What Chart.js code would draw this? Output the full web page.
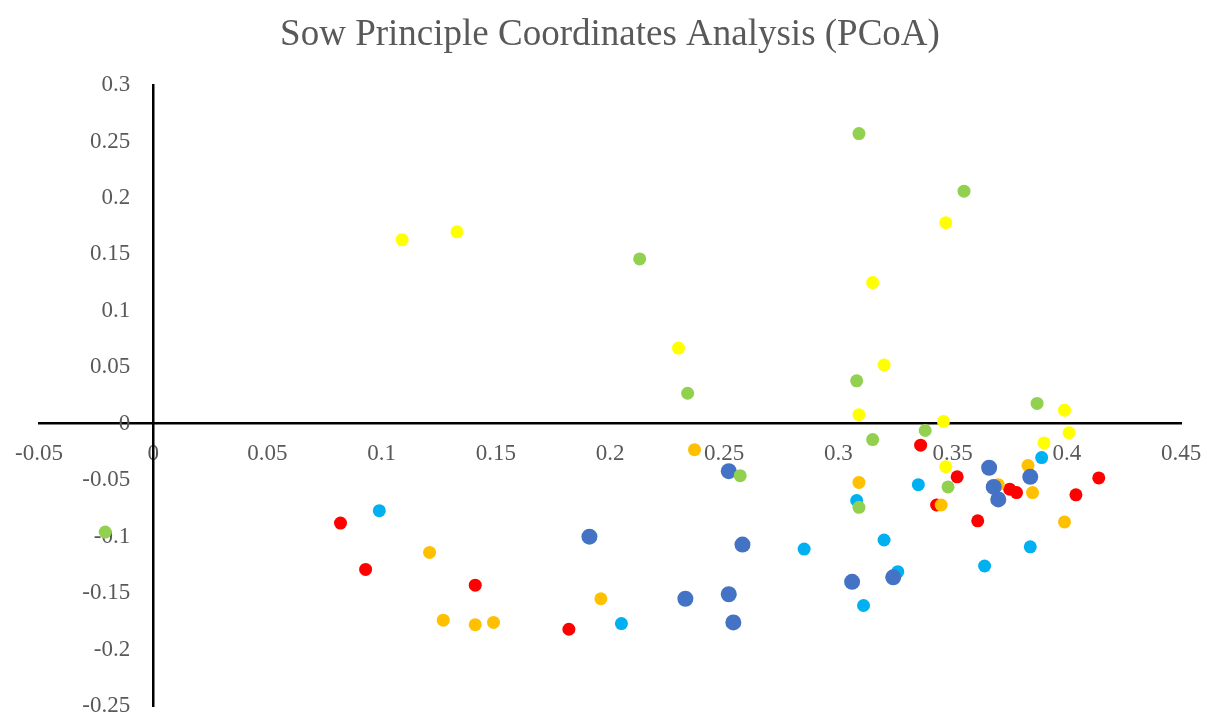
<!DOCTYPE html>
<html>
<head>
<meta charset="utf-8">
<title>Sow PCoA</title>
<script src="https://cdn.jsdelivr.net/npm/chart.js@4.4.0/dist/chart.umd.min.js"></script>
<style>
    html, body { margin: 0; padding: 0; background: #fff; }
    .chart-box { position: relative; width: 1207px; height: 719px; }
</style>
</head>
<body>
<div class="chart-box"><canvas id="pcoaChart"></canvas></div>
<script>
// --- Data ---
const chartTitle = 'Sow Principle Coordinates Analysis (PCoA)';
const xTicks = [-0.05, 0, 0.05, 0.1, 0.15, 0.2, 0.25, 0.3, 0.35, 0.4, 0.45];
const yTicks = [-0.25, -0.2, -0.15, -0.1, -0.05, 0, 0.05, 0.1, 0.15, 0.2, 0.25, 0.3];

const redX = [0.082, 0.093, 0.141, 0.182, 0.336, 0.352, 0.343, 0.361, 0.375, 0.378, 0.404, 0.414];
const redY = [-0.088, -0.129, -0.143, -0.182, -0.019, -0.047, -0.072, -0.086, -0.058, -0.061, -0.063, -0.048];

const orangeX = [0.121, 0.127, 0.141, 0.149, 0.196, 0.237, 0.309, 0.345, 0.370, 0.383, 0.385, 0.399];
const orangeY = [-0.114, -0.174, -0.178, -0.176, -0.155, -0.023, -0.052, -0.072, -0.054, -0.037, -0.061, -0.087];

const yellowX = [0.109, 0.133, 0.230, 0.315, 0.320, 0.309, 0.347, 0.346, 0.347, 0.390, 0.399, 0.401];
const yellowY = [0.163, 0.170, 0.067, 0.125, 0.052, 0.008, 0.178, 0.002, -0.038, -0.017, 0.012, -0.008];

const greenX = [-0.021, 0.213, 0.234, 0.257, 0.309, 0.308, 0.309, 0.315, 0.338, 0.348, 0.355, 0.387];
const greenY = [-0.096, 0.146, 0.027, -0.046, 0.257, 0.038, -0.074, -0.014, -0.006, -0.056, 0.206, 0.018];

const skyX = [0.099, 0.205, 0.285, 0.308, 0.311, 0.320, 0.326, 0.335, 0.364, 0.384, 0.389];
const skyY = [-0.077, -0.177, -0.111, -0.068, -0.161, -0.103, -0.131, -0.054, -0.126, -0.109, -0.030];

const blueX = [0.191, 0.233, 0.252, 0.252, 0.254, 0.258, 0.306, 0.324, 0.366, 0.368, 0.370, 0.384];
const blueY = [-0.100, -0.155, -0.042, -0.151, -0.176, -0.107, -0.140, -0.136, -0.039, -0.056, -0.067, -0.047];

const toPoints = (xs, ys) => xs.map((x, i) => ({ x: x, y: ys[i] }));

// first dataset is drawn on top
const series = [
    { data: toPoints(yellowX, yellowY), color: '#FFFF00', r: 6.5 },
    { data: toPoints(greenX, greenY), color: '#92D050', r: 6.5 },
    { data: toPoints(blueX, blueY), color: '#4472C4', r: 8 },
    { data: toPoints(skyX, skyY), color: '#00B0F0', r: 6.5 },
    { data: toPoints(orangeX, orangeY), color: '#FFC000', r: 6.5 },
    { data: toPoints(redX, redY), color: '#FF0000', r: 6.5 }
];

const tickFont = { family: 'Liberation Serif', size: 23 };
const textColor = '#595959';

const ctx = document.getElementById('pcoaChart').getContext('2d');
new Chart(ctx, {
    type: 'scatter',
    data: {
        datasets: series.map(s => ({
            data: s.data,
            backgroundColor: s.color,
            borderWidth: 0,
            pointRadius: s.r,
            pointHoverRadius: s.r
        }))
    },
    options: {
        responsive: true,
        maintainAspectRatio: false,
        animation: false,
        layout: {
            padding: { left: 39, right: 26, top: 0, bottom: 13 }
        },
        scales: {
            x: {
                type: 'linear',
                min: -0.05,
                max: 0.45,
                position: { y: 0 },
                grid: { display: false, drawTicks: false },
                border: { display: true, color: '#000', width: 2.5 },
                ticks: {
                    color: textColor,
                    font: tickFont,
                    padding: 16,
                    maxRotation: 0,
                    autoSkip: false,
                    callback: v => String(v)
                },
                afterBuildTicks: scale => {
                    scale.ticks = xTicks.map(v => ({ value: v }));
                },
                afterFit: scale => {
                    scale.height = 0;
                    scale.paddingLeft = 0;
                    scale.paddingRight = 0;
                }
            },
            y: {
                type: 'linear',
                min: -0.25,
                max: 0.3,
                position: { x: 0 },
                grid: { display: false, drawTicks: false },
                border: { display: true, color: '#000', width: 2.5 },
                ticks: {
                    color: textColor,
                    font: tickFont,
                    autoSkip: false,
                    // centred axes ignore ticks.padding, so pad with spaces
                    callback: v => String(v) + '    '
                },
                afterBuildTicks: scale => {
                    scale.ticks = yTicks.map(v => ({ value: v }));
                },
                afterFit: scale => {
                    scale.width = 0;
                    scale.paddingTop = 0;
                    scale.paddingBottom = 0;
                }
            }
        },
        plugins: {
            legend: { display: false },
            tooltip: { enabled: false },
            title: {
                display: true,
                text: chartTitle,
                color: textColor,
                font: { family: 'Liberation Serif', size: 37, weight: 'normal' },
                padding: { top: 13, bottom: 27.6 }
            }
        }
    }
});
</script>
</body>
</html>
